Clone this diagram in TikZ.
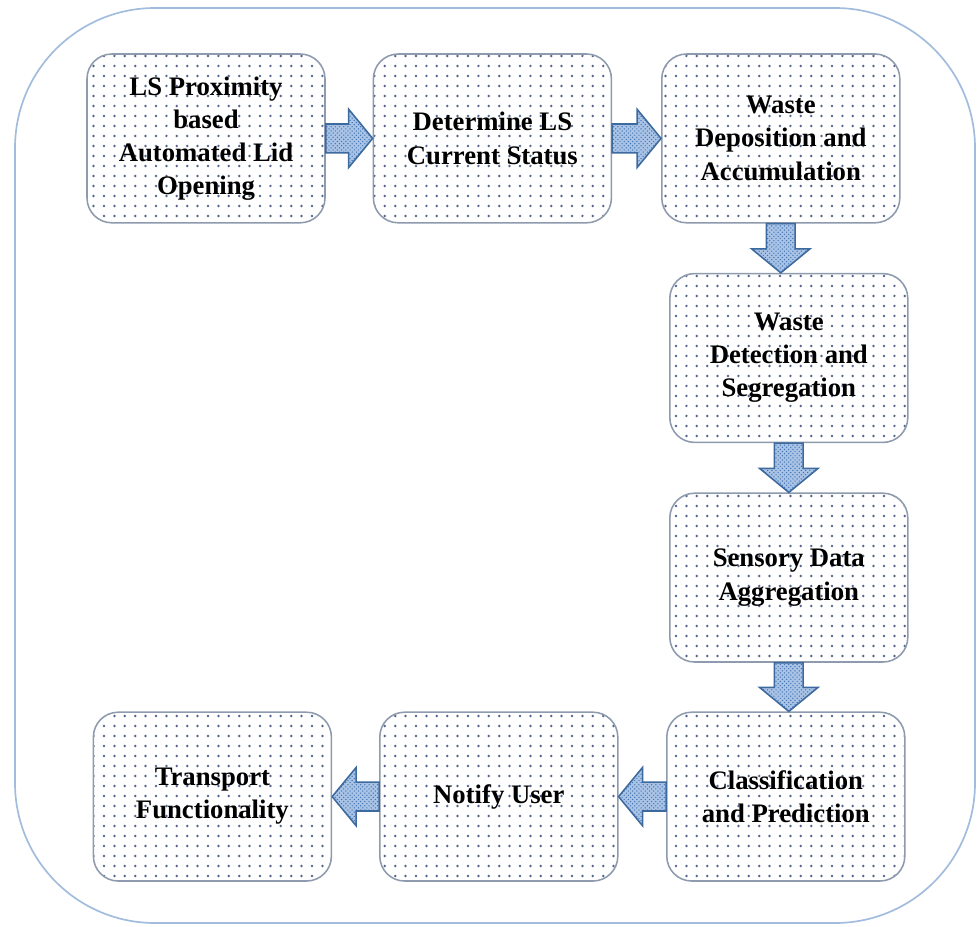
\documentclass[tikz,border=0pt]{standalone}
\usepackage{fontspec}
\setmainfont{Liberation Serif}
\usetikzlibrary{positioning,calc,patterns,patterns.meta}

\definecolor{boxedge}{HTML}{8E9AAD}
\definecolor{dotcol}{HTML}{56678E}
\definecolor{outerline}{HTML}{A2BCDD}
\definecolor{arrowedge}{HTML}{3C6A9F}
\definecolor{arrowdots}{HTML}{3F72B0}
\definecolor{arrowfill}{HTML}{A9C3E6}

% dotted fill of the process boxes
\tikzdeclarepattern{
  name=boxdots,
  type=uncolored,
  bounding box={(-0.13cm,-0.125cm) and (0.13cm,0.125cm)},
  tile size={(0.26cm,0.25cm)},
  code={\fill (0,0) circle (0.034cm);}
}

\begin{document}
\begin{tikzpicture}[on grid,
    procbox/.style={draw=boxedge, line width=1.1pt, rounded corners=0.62cm,
        minimum width=5.95cm, minimum height=4.22cm, align=center,
        preaction={fill=white}, pattern=boxdots, pattern color=dotcol,
        font=\fontsize{19}{23.5}\selectfont\bfseries, text=black},
    blockarrow/.style={draw=arrowedge, line width=1.1pt, line join=miter,
        preaction={fill=arrowfill}, pattern=crosshatch dots, pattern color=arrowdots,
        to path={($(\tikztostart)!0.36cm!90:(\tikztotarget)$)
            -- ($(\tikztotarget)!0.6cm!(\tikztostart)!0.36cm!-90:(\tikztostart)$)
            -- ($(\tikztotarget)!0.6cm!(\tikztostart)!0.73cm!-90:(\tikztostart)$)
            -- (\tikztotarget)
            -- ($(\tikztotarget)!0.6cm!(\tikztostart)!0.73cm!90:(\tikztostart)$)
            -- ($(\tikztotarget)!0.6cm!(\tikztostart)!0.36cm!90:(\tikztostart)$)
            -- ($(\tikztostart)!0.36cm!-90:(\tikztotarget)$) -- cycle}}
    ]
    \useasboundingbox (0,0) rectangle (24.425,-23.15);

    % outer frame
    \draw[outerline, line width=1.2pt, rounded corners=3.5cm]
        (0.375,-0.2) rectangle (24.375,-23.075);

    % top row
    \node[procbox] (lid) at (5.15,-3.46) {LS Proximity\\based\\Automated Lid\\Opening};
    \node[procbox, right=7.16cm of lid] (status) {Determine LS\\Current Status};
    \node[procbox, right=7.21cm of status] (deposit) {Waste\\Deposition and\\Accumulation};

    % right column
    \node[procbox, below=5.49cm of deposit, xshift=0.2cm] (detect) {Waste\\Detection and\\Segregation};
    \node[procbox, below=5.49cm of detect] (sensor) {Sensory Data\\Aggregation};
    \node[procbox, below=5.475cm of sensor, xshift=-0.075cm] (classify) {Classification\\and Prediction};

    % bottom row, right to left
    \node[procbox, left=7.175cm of classify] (notify) {Notify User};
    \node[procbox, left=7.16cm of notify] (transport) {Transport\\Functionality};

    \draw[blockarrow] (lid.east) to (status.west);
    \draw[blockarrow] (status.east) to (deposit.west);
    \draw[blockarrow] (deposit.south) to (deposit.south |- detect.north);
    \draw[blockarrow] (detect.south) to (sensor.north);
    \draw[blockarrow] (sensor.south) to (sensor.south |- classify.north);
    \draw[blockarrow] (classify.west) to (notify.east);
    \draw[blockarrow] (notify.west) to (transport.east);

\end{tikzpicture}
\end{document}
